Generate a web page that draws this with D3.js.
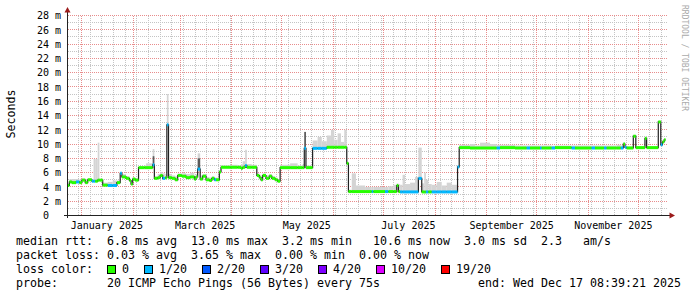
<!DOCTYPE html>
<html>
<head>
<meta charset="utf-8">
<script src="https://cdn.jsdelivr.net/npm/d3@7"></script>
<style>
  html, body { margin: 0; padding: 0; background: #fff; }
  svg { display: block; }
  text { font-family: "DejaVu Sans Mono", monospace; white-space: pre; }
</style>
</head>
<body>
<div class="chart"></div>
<script>
// samples (UTC, step-after)
const sampleTimes = [
  "2024-12-23T00","2024-12-24T12","2024-12-26T00","2024-12-28T12","2024-12-30T12","2025-01-01T00","2025-01-03T00","2025-01-04T12","2025-01-07T00","2025-01-08T00",
  "2025-01-09T00","2025-01-10T12","2025-01-11T12","2025-01-13T12","2025-01-16T12","2025-01-19T12","2025-01-22T00","2025-01-24T00","2025-01-25T00","2025-01-27T12",
  "2025-01-29T12","2025-01-30T12","2025-01-31T12","2025-02-02T00","2025-02-04T00","2025-02-07T12","2025-02-08T12","2025-02-12T12","2025-02-13T12","2025-02-15T12",
  "2025-02-17T00","2025-02-18T12","2025-02-20T00","2025-02-21T00","2025-02-22T00","2025-02-24T00","2025-02-26T00","2025-02-27T12","2025-03-02T00","2025-03-04T12",
  "2025-03-07T00","2025-03-09T12","2025-03-10T12","2025-03-11T12","2025-03-13T00","2025-03-14T12","2025-03-16T12","2025-03-18T12","2025-03-20T00","2025-03-21T12",
  "2025-03-22T12","2025-03-24T12","2025-03-25T12","2025-03-31T00","2025-04-04T12","2025-04-06T12","2025-04-07T12","2025-04-09T00","2025-04-10T00","2025-04-13T00",
  "2025-04-16T00","2025-04-17T12","2025-04-18T12","2025-04-19T12","2025-04-21T12","2025-04-23T12","2025-04-25T00","2025-04-27T00","2025-04-28T12","2025-04-30T00",
  "2025-05-06T00","2025-05-10T12","2025-05-13T12","2025-05-14T12","2025-05-15T12","2025-05-19T12","2025-05-22T12","2025-05-25T00","2025-05-28T00","2025-05-30T12",
  "2025-06-01T12","2025-06-03T12","2025-06-05T12","2025-06-07T12","2025-06-09T00","2025-06-10T00","2025-06-12T00","2025-06-14T12","2025-06-20T00","2025-06-24T00",
  "2025-06-25T00","2025-07-02T00","2025-07-04T00","2025-07-07T00","2025-07-09T00","2025-07-10T00","2025-07-11T00","2025-07-12T12","2025-07-14T00","2025-07-17T00",
  "2025-07-20T00","2025-07-22T00","2025-07-24T00","2025-07-25T12","2025-07-26T12","2025-07-28T00","2025-07-30T00","2025-08-02T00","2025-08-05T00","2025-08-08T00",
  "2025-08-11T00","2025-08-14T12","2025-08-15T12","2025-08-22T00","2025-08-25T00","2025-08-28T00","2025-09-03T00","2025-09-07T00","2025-09-09T00","2025-09-18T00",
  "2025-09-25T00","2025-09-27T00","2025-10-03T00","2025-10-04T00","2025-10-10T00","2025-10-12T00","2025-10-22T00","2025-10-24T00","2025-11-03T00","2025-11-05T00",
  "2025-11-10T12","2025-11-12T00","2025-11-18T00","2025-11-20T12","2025-11-22T00","2025-11-23T00","2025-11-24T00","2025-11-28T00","2025-11-29T12","2025-12-05T00",
  "2025-12-06T00","2025-12-13T00","2025-12-14T12","2025-12-15T12","2025-12-16T12"
];

const medianMs = [
  4.2,4.7,4.6,4.7,4.6,4.95,4.6,5.0,4.8,4.8,
  4.8,4.95,4.95,4.25,4.2,4.2,4.6,5.9,5.4,5.2,
  4.9,4.4,5.1,4.95,6.7,6.7,6.7,7.1,5.2,5.3,
  5.6,5.2,5.3,12.7,5.3,5.2,5.0,5.6,5.5,5.3,
  5.4,5.1,5.4,6.5,5.1,5.5,5.0,4.9,5.2,5.0,
  5.0,6.1,6.75,6.75,6.75,6.6,6.75,7.0,6.75,6.75,
  5.6,5.3,5.0,5.6,5.2,5.5,5.2,5.0,4.8,6.7,
  6.7,6.7,6.7,9.4,6.7,9.4,9.4,9.4,9.55,9.55,
  9.55,9.55,9.55,9.55,7.3,3.35,3.35,3.35,3.35,3.35,
  3.35,3.35,3.35,3.35,4.2,3.35,3.3,3.3,3.3,3.3,
  3.3,5.2,3.3,3.3,3.3,3.3,3.3,3.3,3.3,3.3,
  3.3,6.8,9.5,9.45,9.45,9.45,9.45,9.45,9.5,9.45,
  9.45,9.45,9.45,9.45,9.45,9.5,9.45,9.45,9.45,9.45,
  9.45,9.45,9.45,9.45,10.0,9.55,9.45,11.1,9.5,10.8,
  9.5,13.1,9.9,10.3,10.6
];

const lossCount = [
  0,0,0,1,0,0,0,0,1,1,
  0,0,0,0,1,1,0,1,0,0,
  0,0,0,0,0,0,0,1,0,0,
  0,1,0,1,0,0,0,0,0,0,
  0,0,0,1,0,0,0,0,0,1,
  0,0,0,0,0,0,0,1,0,0,
  0,0,0,0,0,0,0,0,0,0,
  0,0,0,1,0,1,1,1,0,0,
  0,0,0,0,0,0,0,0,0,1,
  0,1,0,0,0,0,1,1,1,1,
  1,1,0,0,1,0,1,1,1,1,
  1,1,0,0,0,0,0,1,0,0,
  1,0,1,0,1,0,1,0,1,0,
  1,0,0,1,0,1,0,0,0,0,
  0,0,1,0,0
];

const smokeMaxMs = [
  4.6,5.1,5.1,5.1,5.0,5.2,5.1,5.2,5.1,7.9,
  7.9,10.2,5.1,4.6,4.7,4.9,4.9,6.1,5.8,5.5,
  5.2,4.9,5.3,5.2,6.85,7.0,7.3,9.3,5.5,5.8,
  6.1,5.9,5.8,17.0,5.8,5.6,5.5,5.9,5.9,5.8,
  6.0,5.6,5.8,8.7,5.6,5.8,5.4,5.3,5.5,5.3,
  5.3,6.3,7.0,7.1,7.0,7.2,7.6,9.2,7.2,7.1,
  5.9,5.7,5.6,5.9,5.6,5.8,5.5,5.3,5.1,7.1,
  7.3,7.0,7.2,11.7,7.0,10.5,11.0,10.4,11.2,12.0,
  10.6,11.5,10.3,12.0,7.5,3.6,5.9,4.2,4.0,4.0,
  4.0,4.0,4.1,4.3,4.5,4.4,4.3,5.7,4.4,4.6,
  5.4,9.5,4.5,6.0,5.0,4.4,4.3,4.7,4.2,4.6,
  4.3,7.0,9.9,10.0,9.8,10.2,10.0,9.9,9.9,9.8,
  9.8,9.8,9.8,9.8,9.75,9.8,9.8,9.8,9.8,9.8,
  9.8,9.8,9.9,9.8,10.2,9.8,9.7,11.2,9.7,10.9,
  9.7,13.2,10.1,10.4,10.7
];

// darker smoke on a few spikes
const darkTimes = ["2025-02-12T12", "2025-03-11T12", "2025-05-14T12"];
const darkTopMs = [8.3, 8.0, 11.7];

const yMajorTicks = [0, 2, 4, 6, 8, 10, 12, 14, 16, 18, 20, 22, 24, 26, 28];

const lossSteps = [0, 1, 2, 3, 4, 10, 19];
const lossColors = ["#26ff00", "#00b8ff", "#0059ff", "#5e00ff", "#7e00ff", "#dd00ff", "#ff0000"];
const lossLabels = ["0", "1/20", "2/20", "3/20", "4/20", "10/20", "19/20"];

const legendLines = [
  "median rtt:  6.8 ms avg  13.0 ms max  3.2 ms min   10.6 ms now  3.0 ms sd  2.3   am/s",
  "packet loss: 0.03 % avg  3.65 % max  0.00 % min  0.00 % now",
  "loss color:",
  "probe:       20 ICMP Echo Pings (56 Bytes) every 75s"
];
const endLabel = "end: Wed Dec 17 08:39:21 2025";

function drawChart(container) {
  const width = 697, height = 297;
  const svg = d3.select(container).append("svg")
    .attr("width", width)
    .attr("height", height);

  const parse = d3.utcParse("%Y-%m-%dT%H");
  const tStart = new Date(Date.UTC(2024, 11, 23, 1, 26));
  const tEnd = new Date(Date.UTC(2025, 11, 18, 5, 30));
  const dataEnd = new Date(Date.UTC(2025, 11, 17, 8, 39, 21));

  const x = d3.scaleUtc().domain([tStart, tEnd]).range([67, 667]);
  const y = d3.scaleLinear().domain([0, 28]).range([215.5, 15.5]);
  const px = v => Math.floor(v);

  const samples = sampleTimes.map((s, i) => ({
    t: parse(s),
    t1: i + 1 < sampleTimes.length ? parse(sampleTimes[i + 1]) : dataEnd,
    med: medianMs[i],
    loss: lossCount[i],
    hi: smokeMaxMs[i]
  }));
  const xc = d => Math.max(x(d), 67);

  // ---- dotted grid patterns (1 px on, 1 px off)
  const defs = svg.append("defs");
  function dotPattern(id, color, horizontal) {
    const p = defs.append("pattern")
      .attr("id", id)
      .attr("patternUnits", "userSpaceOnUse")
      .attr("width", horizontal ? 2 : 1)
      .attr("height", horizontal ? 1 : 2);
    p.append("rect").attr("width", 1).attr("height", 1).attr("fill", color);
  }
  dotPattern("hMin", "#c4c4c4", true);
  dotPattern("vMin", "#c4c4c4", false);
  dotPattern("hMaj", "#e88c8c", true);
  dotPattern("vMaj", "#e88c8c", false);

  const grid = svg.append("g").attr("shape-rendering", "crispEdges");
  const hLines = (vals, fill) => grid.append("g").selectAll("rect").data(vals)
    .join("rect")
      .attr("x", 67).attr("width", 600)
      .attr("y", d => px(y(d))).attr("height", 1)
      .attr("fill", fill);
  const vLines = (vals, fill) => grid.append("g").selectAll("rect").data(vals)
    .join("rect")
      .attr("x", d => px(x(d))).attr("width", 1)
      .attr("y", 16).attr("height", 200)
      .attr("fill", fill);
  hLines(y.ticks(28).filter(v => yMajorTicks.indexOf(v) < 0), "url(#hMin)");
  vLines(x.ticks(d3.utcMonday), "url(#vMin)");
  hLines(yMajorTicks.filter(v => v > 0), "url(#hMaj)");
  vLines(x.ticks(d3.utcMonth), "url(#vMaj)");

  // ---- smoke
  svg.append("g").selectAll("rect").data(samples)
    .join("rect")
      .attr("x", d => xc(d.t))
      .attr("width", d => x(d.t1) - xc(d.t))
      .attr("y", d => y(d.hi))
      .attr("height", d => y(d.med) - y(d.hi))
      .attr("fill", "#d4d4d4");

  svg.append("g").selectAll("rect").data(darkTimes)
    .join("rect")
      .attr("x", d => x(parse(d)))
      .attr("width", d => {
        const s = samples.find(p => +p.t === +parse(d));
        return x(s.t1) - x(s.t);
      })
      .attr("y", (d, i) => y(darkTopMs[i]))
      .attr("height", (d, i) => {
        const s = samples.find(p => +p.t === +parse(d));
        return y(s.med) - y(darkTopMs[i]);
      })
      .attr("fill", "#5a5a5a");

  // ---- median: thin dark step line, then loss coloured segments
  const steps = samples.concat([{t: dataEnd, med: samples[samples.length - 1].med}]);
  svg.append("path")
    .datum(steps)
    .attr("fill", "none")
    .attr("stroke", "#202020")
    .attr("stroke-width", 1.2)
    .attr("d", d3.line().x(d => xc(d.t)).y(d => y(d.med)).curve(d3.curveStepAfter));

  const lossColor = n => {
    let c = lossColors[0];
    lossSteps.forEach((s, i) => { if (n >= s) c = lossColors[i]; });
    return c;
  };
  svg.append("g").selectAll("path").data(samples)
    .join("path")
      .attr("fill", "none")
      .attr("stroke", d => lossColor(d.loss))
      .attr("stroke-width", 3)
      .attr("d", d => `M${xc(d.t)},${y(d.med)}H${x(d.t1)}`);

  // ---- axes
  const axis = svg.append("g");
  axis.append("line").attr("x1", 67.5).attr("x2", 67.5).attr("y1", 218).attr("y2", 12)
    .attr("stroke", "#222");
  axis.append("line").attr("x1", 64).attr("x2", 670).attr("y1", 215.5).attr("y2", 215.5)
    .attr("stroke", "#222");
  axis.append("path").attr("d", "M64.5,12.5L70.5,12.5L67.5,7z").attr("fill", "#9b1b1b");
  axis.append("path").attr("d", "M669.5,212.5L669.5,218.5L675,215.5z").attr("fill", "#9b1b1b");

  axis.selectAll(".ylab").data(yMajorTicks)
    .join("text")
      .attr("x", 61)
      .attr("y", d => y(d) + 3.8)
      .attr("text-anchor", "end")
      .attr("font-size", "10px")
      .attr("fill", "#000")
      .text(d => d === 0 ? "0  " : d + " m");

  axis.selectAll(".xlab").data(x.ticks(d3.utcMonth.every(2)))
    .join("text")
      .attr("x", d => x(d3.utcDay.offset(d, 15)))
      .attr("y", 228.5)
      .attr("text-anchor", "middle")
      .attr("font-size", "10px")
      .attr("fill", "#000")
      .text(d3.utcFormat("%B %Y"));

  svg.append("text")
    .attr("transform", "translate(14.5,114) rotate(-90)")
    .attr("text-anchor", "middle")
    .attr("font-size", "11.63px")
    .attr("fill", "#000")
    .text("Seconds");

  svg.append("text")
    .attr("transform", "translate(682,5) rotate(90)")
    .attr("font-size", "8px")
    .attr("fill", "#aaaaaa")
    .text("RRDTOOL / TOBI OETIKER");

  // ---- legend
  const baselines = [244.5, 258.5, 272.8, 287];
  const legend = svg.append("g").attr("font-size", "11.63px").attr("fill", "#000");
  legend.selectAll("text").data(legendLines)
    .join("text")
      .attr("x", 16)
      .attr("y", (d, i) => baselines[i])
      .text(d => d);
  legend.append("text")
    .attr("x", 16 + 66 * 7)
    .attr("y", baselines[3])
    .text(endLabel);

  let sx = 107.5;
  lossLabels.forEach((lab, i) => {
    legend.append("rect")
      .attr("x", sx).attr("y", 265.5)
      .attr("width", 8).attr("height", 8)
      .attr("fill", lossColors[i])
      .attr("stroke", "#000");
    legend.append("text")
      .attr("x", sx + 14.5)
      .attr("y", baselines[2])
      .text(lab);
    sx = sx + 14.5 + lab.length * 7 + 15.5;
  });
}

drawChart(".chart");
</script>
</body>
</html>
